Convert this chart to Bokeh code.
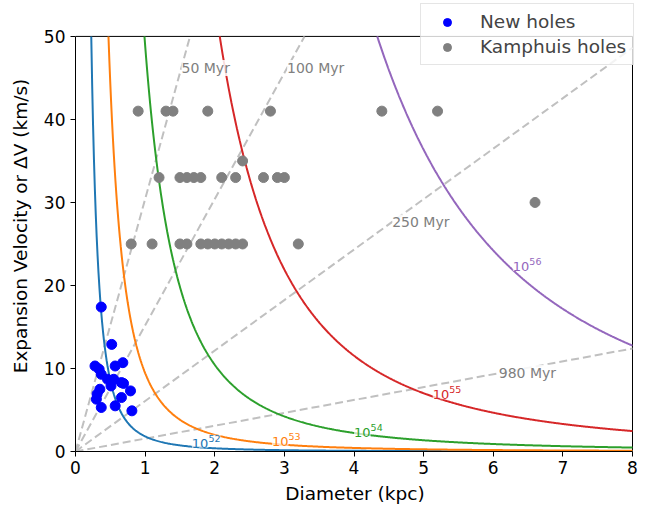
import numpy as np
from bokeh.plotting import figure
from bokeh.models import Range1d, Legend, LegendItem, FixedTicker
from bokeh.core.properties import value
from bokeh.embed import file_html
from bokeh.resources import INLINE

# ---------------- data ----------------
# Kamphuis holes (diameter kpc, velocity km/s)
kamphuis_d = [0.9, 1.3, 1.4, 1.9, 2.8, 4.4, 5.2,
              2.4,
              1.2, 1.5, 1.6, 1.7, 1.8, 2.1, 2.3, 2.7, 2.9, 3.0,
              6.6,
              0.8, 1.1, 1.5, 1.6, 1.8, 1.9, 2.0, 2.1, 2.2, 2.3, 2.4, 3.2]
kamphuis_v = [41, 41, 41, 41, 41, 41, 41,
              35,
              33, 33, 33, 33, 33, 33, 33, 33, 33, 33,
              30,
              25, 25, 25, 25, 25, 25, 25, 25, 25, 25, 25, 25]

# New holes
new_d = [0.37, 0.52, 0.28, 0.34, 0.57, 0.68, 0.37, 0.46, 0.55, 0.66,
         0.69, 0.51, 0.79, 0.35, 0.31, 0.30, 0.66, 0.37, 0.57, 0.81]
new_v = [17.4, 12.9, 10.3, 9.9, 10.3, 10.7, 9.3, 8.7, 8.7, 8.3,
         8.2, 7.9, 7.3, 7.5, 6.9, 6.3, 6.5, 5.3, 5.5, 4.9]

# Energy contours (erg), Chevalier (1974): E = 5.3e43 n^1.12 R^3.12 v^1.4
energies = [1e52, 1e53, 1e54, 1e55, 1e56]
energy_exponents = ["52", "53", "54", "55", "56"]
density_n = 0.35  # cm^-3

# Age lines (Myr): v = AGE_K * D / t
ages = [50, 100, 250, 980]
age_labels = ["50 Myr", "100 Myr", "250 Myr", "980 Myr"]
AGE_K = 1520.0

X_MAX, Y_MAX = 8, 50
x_ticks = [0, 1, 2, 3, 4, 5, 6, 7, 8]
y_ticks = [0, 10, 20, 30, 40, 50]

# ---------------- styling / layout ----------------
curve_colors = ["#1f77b4", "#ff7f0e", "#2ca02c", "#d62728", "#9467bd"]
energy_label_pos = [(1.88, 1.1), (3.03, 1.35), (4.21, 2.4), (5.34, 6.97), (6.49, 22.4)]
age_label_pos = [(1.87, 46.2), (3.45, 46.2), (4.96, 27.6), (6.49, 9.5)]
FONT = "DejaVu Sans"

W, H = 650, 506
LEFT, RIGHT_X8, TOP_Y50, BOTTOM = 75, 632, 36, 452   # pixel positions of the axes box
px_x = (RIGHT_X8 - LEFT) / X_MAX
x_end = X_MAX + 2 / px_x
y_end = Y_MAX * BOTTOM / (BOTTOM - TOP_Y50)

p = figure(width=W, height=H, output_backend="svg", toolbar_location=None,
           x_range=Range1d(0, x_end), y_range=Range1d(0, y_end),
           min_border_left=LEFT, min_border_right=W - (RIGHT_X8 + 2),
           min_border_top=0, min_border_bottom=H - BOTTOM)
p.grid.visible = False
p.outline_line_color = None
p.background_fill_color = "white"
p.border_fill_color = "white"

for ax in (p.xaxis[0], p.yaxis[0]):
    ax.major_label_text_font = FONT
    ax.major_label_text_font_size = "17px"
    ax.major_label_text_color = "black"
    ax.axis_label_text_font = FONT
    ax.axis_label_text_font_size = "18.5px"
    ax.axis_label_text_font_style = "normal"
    ax.axis_label_text_color = "black"
    ax.minor_tick_line_color = None
    ax.major_tick_in = 0
    ax.major_tick_out = 5
    ax.axis_line_color = "black"
    ax.major_tick_line_color = "black"
p.xaxis.ticker = FixedTicker(ticks=x_ticks)
p.yaxis.ticker = FixedTicker(ticks=y_ticks)
p.xaxis.bounds = (0, X_MAX)
p.yaxis.bounds = (0, Y_MAX)
p.xaxis.axis_label = "Diameter (kpc)"
p.yaxis.axis_label = "Expansion Velocity or \u0394V (km/s)"
p.xaxis.major_label_standoff = 4
p.yaxis.major_label_standoff = 5
p.xaxis.axis_label_standoff = 6
p.yaxis.axis_label_standoff = 10

# top and right spines
p.segment(x0=[0, X_MAX], y0=[Y_MAX, 0], x1=[X_MAX, X_MAX], y1=[Y_MAX, Y_MAX],
          line_color="black", line_width=1)

# age lines
for t in ages:
    d_end = min(X_MAX, Y_MAX * t / AGE_K)
    d = np.array([0.0, d_end])
    p.line(d, AGE_K * d / t, line_color="#c0c0c0", line_width=2, line_dash="8 4")

# energy curves
for E, c in zip(energies, curve_colors):
    d50 = (E / (5.3e43 * density_n ** 1.12 * Y_MAX ** 1.4)) ** (1 / 3.12) * 2 / 1000.0
    d = np.linspace(d50, X_MAX, 600)
    R = d * 1000.0 / 2.0
    v = (E / (5.3e43 * density_n ** 1.12 * R ** 3.12)) ** (1 / 1.4)
    p.line(d, v, line_color=c, line_width=2)

# smaller copies used only as legend glyphs (hidden under the real markers)
leg_new = p.scatter(new_d[:1], new_v[:1], size=7, color="#0000ff")
leg_kam = p.scatter(kamphuis_d[:1], kamphuis_v[:1], size=7, color="#808080")

# scatter points
p.scatter(new_d, new_v, size=10, color="#0000ff")
p.scatter(kamphuis_d, kamphuis_v, size=10, color="#808080")

# energy labels: "10" + raised exponent
for (x, y), ex, c in zip(energy_label_pos, energy_exponents, curve_colors):
    p.text([x], [y], text=["10"], text_color=c, text_font=value(FONT), text_font_size="13px",
           text_align="right", text_baseline="middle", x_offset=2, y_offset=1,
           background_fill_color="white", background_fill_alpha=0.7)
    p.text([x], [y], text=[ex], text_color=c, text_font=value(FONT), text_font_size="9.5px",
           text_align="left", text_baseline="middle", x_offset=2, y_offset=-4,
           background_fill_color="white", background_fill_alpha=0.7)

# age labels
for (x, y), lab in zip(age_label_pos, age_labels):
    p.text([x], [y], text=[lab], text_color="#808080", text_font=value(FONT), text_font_size="14px",
           text_align="center", text_baseline="middle",
           background_fill_color="white", background_fill_alpha=0.85)

legend = Legend(items=[LegendItem(label="New holes", renderers=[leg_new]),
                       LegendItem(label="Kamphuis holes", renderers=[leg_kam])],
                location=(420 - LEFT, BOTTOM - 66), margin=0, padding=7, spacing=4,
                glyph_width=38, label_standoff=14,
                label_text_font=FONT, label_text_font_size="18.5px",
                border_line_color="#cccccc", border_line_width=1,
                background_fill_color="white", background_fill_alpha=0.8)
p.add_layout(legend, "center")

open("out.html", "w").write(file_html(p, INLINE))
